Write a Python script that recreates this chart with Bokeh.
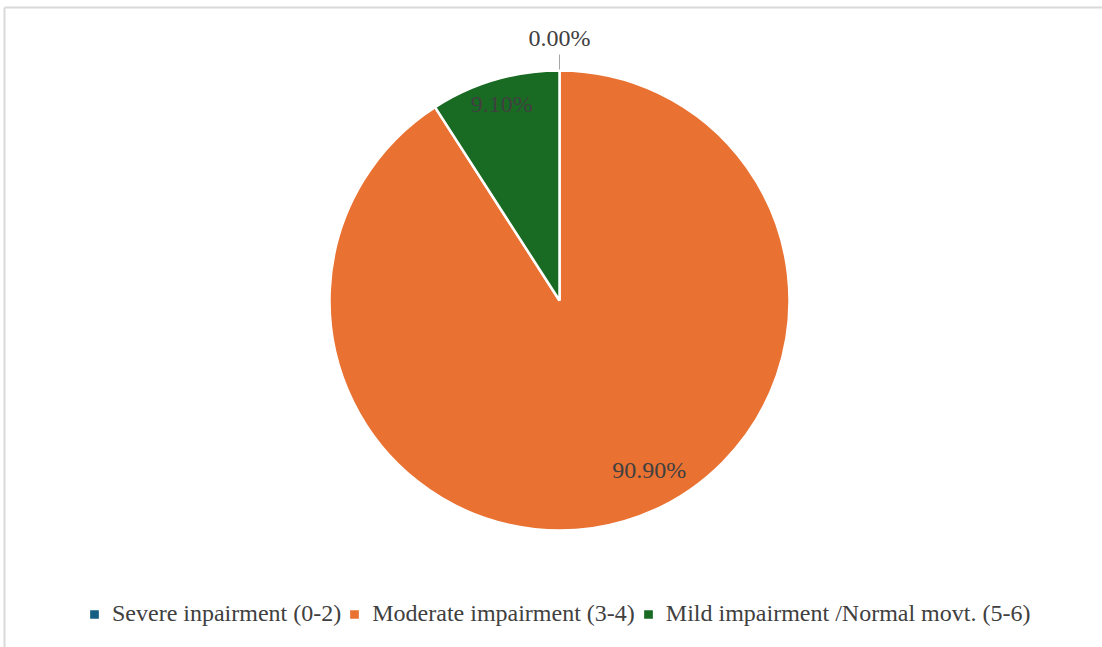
import math

from bokeh.embed import file_html
from bokeh.models import Legend, LegendItem, Range1d
from bokeh.plotting import figure
from bokeh.resources import INLINE
from bokeh.core.properties import value

# Movement score categories and their share of patients (%)
categories = ["Severe inpairment (0-2)", "Moderate impairment (3-4)", "Mild impairment /Normal movt. (5-6)"]
shares = [0.00, 90.90, 9.10]
label_texts = ["0.00%", "90.90%", "9.10%"]

colors = ["#156082", "#E97132", "#196B24"]

W, H = 1102, 647
CX, CY, R = 559, H - 300, 230
FONT = "'Times New Roman', 'Liberation Serif', serif"
TEXT_COLOR = "#404040"

p = figure(width=W, height=H, output_backend="svg", toolbar_location=None,
           x_range=Range1d(0, W), y_range=Range1d(0, H),
           x_axis_location=None, y_axis_location=None, min_border=0,
           background_fill_color="white", border_fill_color="white")
p.grid.visible = False
p.outline_line_color = None

# chart-area frame (top and left edges)
p.segment(x0=[4, 4], y0=[H - 7, H - 7], x1=[W, 4], y1=[H - 7, 0],
          line_color="#D9D9D9", line_width=2)

# slices run clockwise from 12 o'clock
total = sum(shares)
start = math.pi / 2
renderers = []
mids = []
for name, val, col in zip(categories, shares, colors):
    end = start - val / total * 2 * math.pi
    r = p.wedge(x=CX, y=CY, radius=R, start_angle=start, end_angle=end,
                direction="clock", fill_color=col, line_color="white", line_width=2.5)
    renderers.append(r)
    mids.append((start + end) / 2)
    start = end

# label placement: radial fraction and angular nudge (degrees, clockwise)
label_place = [(1.14, 0.0), (0.835, -11.5), (0.89, 0.0)]
lx, ly = [], []
for m, (rf, nudge) in zip(mids, label_place):
    a = m - math.radians(nudge)
    lx.append(CX + rf * R * math.cos(a))
    ly.append(CY + rf * R * math.sin(a))

p.text(x=lx, y=ly, text=label_texts, text_align="center", text_baseline="middle",
       text_font=value(FONT), text_font_size="24px", text_color=TEXT_COLOR)

# leader line for the zero slice label
a0 = mids[0]
p.segment(x0=[CX + (R + 1) * math.cos(a0)], y0=[CY + (R + 1) * math.sin(a0)],
          x1=[CX + (R + 16) * math.cos(a0)], y1=[CY + (R + 16) * math.sin(a0)],
          line_color="#A6A6A6", line_width=1)

legend = Legend(items=[LegendItem(label=c, renderers=[r]) for c, r in zip(categories, renderers)],
                orientation="horizontal", location=(87, 20),
                glyph_width=14, glyph_height=14, label_standoff=11, spacing=6,
                padding=0, margin=0, border_line_color=None, background_fill_alpha=0,
                label_text_font=FONT, label_text_font_size="24px", label_text_color=TEXT_COLOR)
p.add_layout(legend, "center")

open("out.html", "w").write(file_html(p, INLINE))
